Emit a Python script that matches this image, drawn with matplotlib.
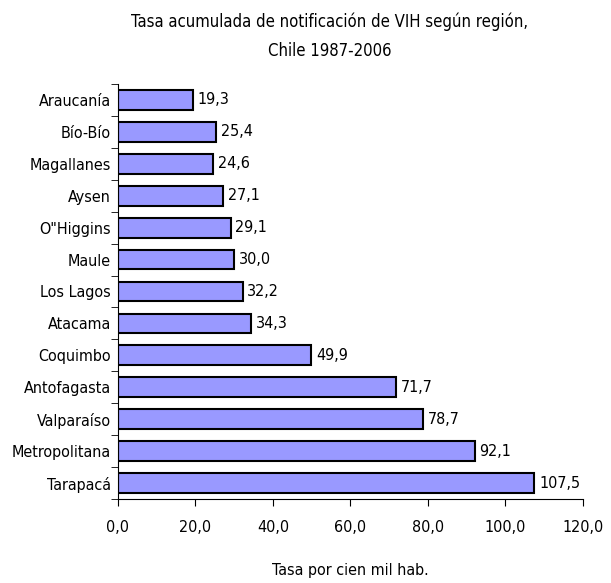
import matplotlib.pyplot as plt
import numpy as np

plt.rcParams['font.family'] = ['DejaVu Sans']
plt.rcParams['font.stretch'] = 'condensed'

regiones = ['Araucanía', 'Bío-Bío', 'Magallanes', 'Aysen', 'O"Higgins', 'Maule',
            'Los Lagos', 'Atacama', 'Coquimbo', 'Antofagasta', 'Valparaíso',
            'Metropolitana', 'Tarapacá']
tasas = [19.3, 25.4, 24.6, 27.1, 29.1, 30.0, 32.2, 34.3, 49.9, 71.7, 78.7, 92.1, 107.5]
xticks = [0, 20, 40, 60, 80, 100, 120]

fig = plt.figure(figsize=(6.11, 5.83), dpi=100)
ax = fig.add_axes([0.193, 0.144, 0.761, 0.712])

y = np.arange(len(regiones))
ax.barh(y, tasas, height=0.62, color='#9999FF', edgecolor='black', linewidth=1.5)
ax.set_ylim(len(regiones) - 0.5, -0.5)
ax.set_xlim(0, 120)

# etiquetas de valor con coma decimal
for yi, v in zip(y, tasas):
    ax.text(v + 1.2, yi, f'{v:.1f}'.replace('.', ','), va='center', ha='left', fontsize=11.5)

ax.set_yticks(y)
ax.set_yticklabels(regiones, fontsize=11.5)
ax.tick_params(axis='y', length=0, pad=5)
ax.set_yticks(np.arange(-0.5, len(regiones), 1), minor=True)
ax.tick_params(axis='y', which='minor', length=5, direction='out')

ax.set_xticks(xticks)
ax.set_xticklabels([f'{t:.1f}'.replace('.', ',') for t in xticks], fontsize=11.5)
ax.tick_params(axis='x', length=5, direction='out', pad=10)

for s in ['top', 'right']:
    ax.spines[s].set_visible(False)

ax.set_xlabel('Tasa por cien mil hab.', fontsize=11.5, labelpad=20)
fig.text(0.54, 0.978, 'Tasa acumulada de notificación de VIH según región,\nChile 1987-2006',
         ha='center', va='top', fontsize=12, linespacing=1.75)

fig.savefig('out.png', dpi=100)
